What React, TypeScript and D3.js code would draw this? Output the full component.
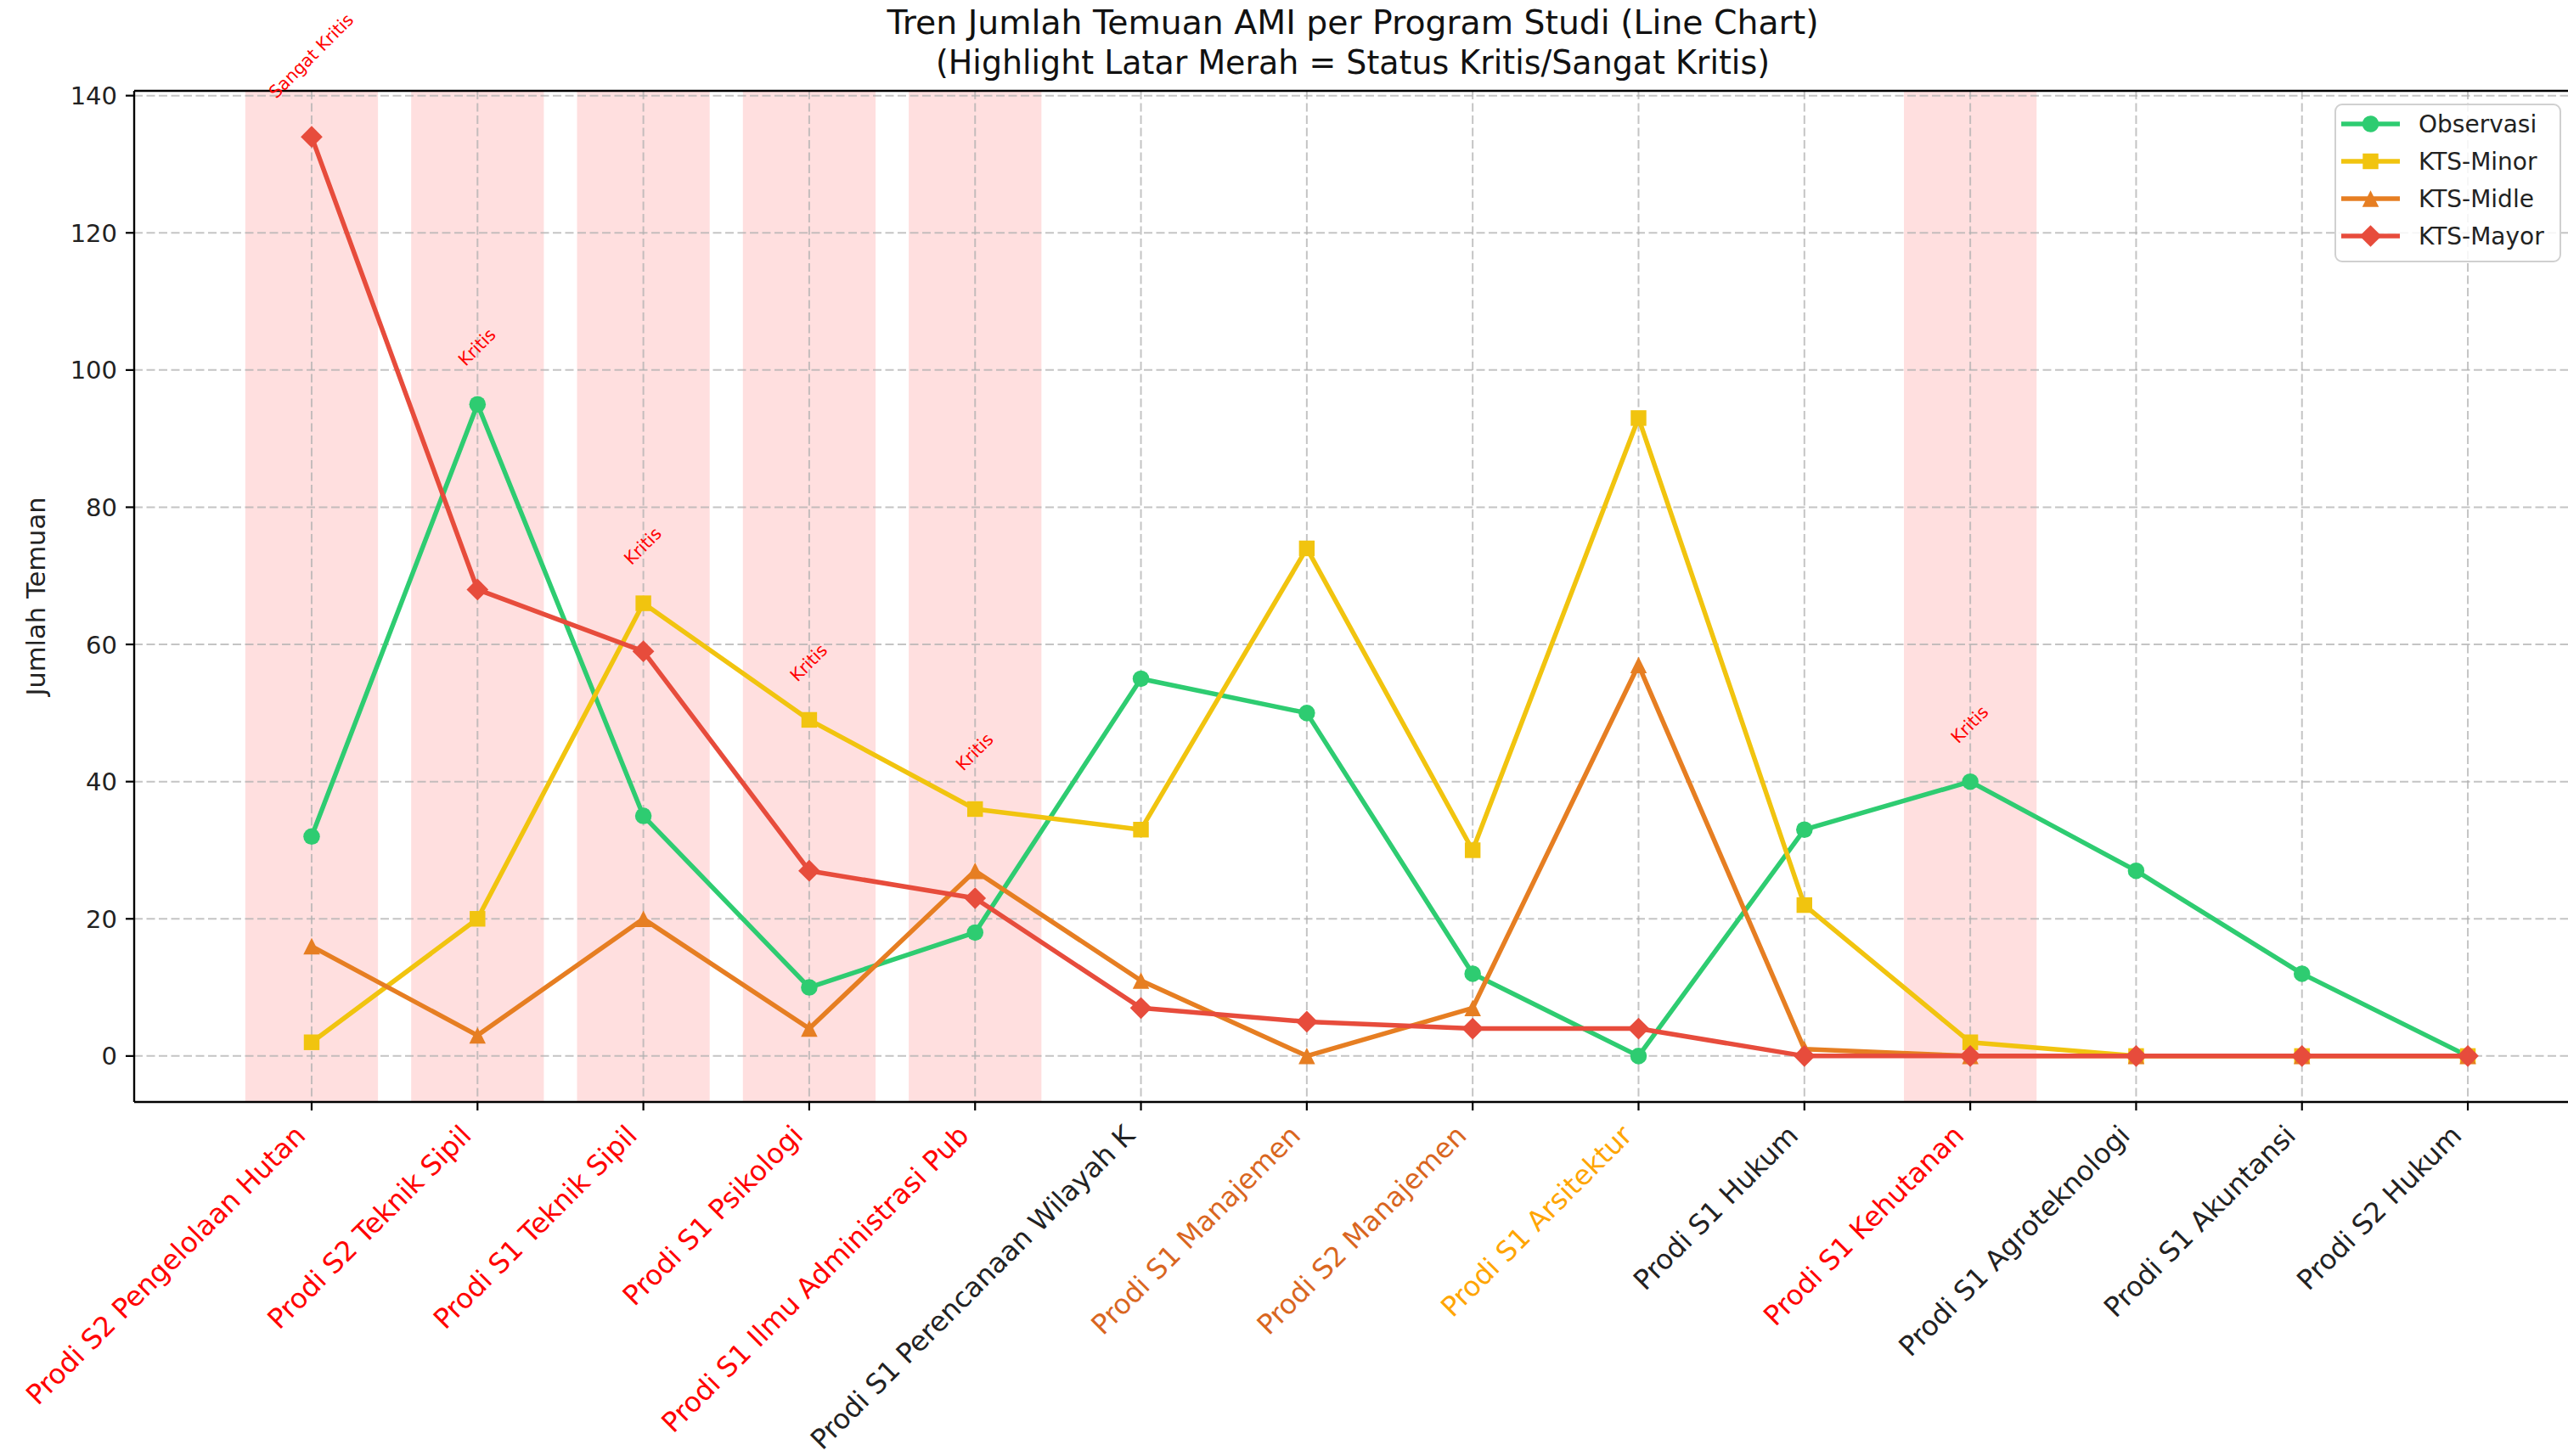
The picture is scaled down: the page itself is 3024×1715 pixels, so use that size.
import React, { useEffect, useRef } from 'react';
import * as d3 from 'd3';

// Program names on the x axis
const programs = [
  'Prodi S2 Pengelolaan Hutan',
  'Prodi S2 Teknik Sipil',
  'Prodi S1 Teknik Sipil',
  'Prodi S1 Psikologi',
  'Prodi S1 Ilmu Administrasi Pub',
  'Prodi S1 Perencanaan Wilayah K',
  'Prodi S1 Manajemen',
  'Prodi S2 Manajemen',
  'Prodi S1 Arsitektur',
  'Prodi S1 Hukum',
  'Prodi S1 Kehutanan',
  'Prodi S1 Agroteknologi',
  'Prodi S1 Akuntansi',
  'Prodi S2 Hukum',
];

// Findings per program
const observasi = [32, 95, 35, 10, 18, 55, 50, 12, 0, 33, 40, 27, 12, 0];
const ktsMinor = [2, 20, 66, 49, 36, 33, 74, 30, 93, 22, 2, 0, 0, 0];
const ktsMidle = [16, 3, 20, 4, 27, 11, 0, 7, 57, 1, 0, 0, 0, 0];
const ktsMayor = [134, 68, 59, 27, 23, 7, 5, 4, 4, 0, 0, 0, 0, 0];

// Status per program ('' = not highlighted)
const statusLabels = [
  'Sangat Kritis', 'Kritis', 'Kritis', 'Kritis', 'Kritis', '', '', '', '', '', 'Kritis', '', '', '',
];

// Tick label colours per program
const labelColors = [
  '#ff0000', '#ff0000', '#ff0000', '#ff0000', '#ff0000', '#222222', '#d9661f',
  '#d9661f', '#ffa500', '#222222', '#ff0000', '#222222', '#222222', '#222222',
];

const yTicks = [0, 20, 40, 60, 80, 100, 120, 140];

const seriesNames = ['Observasi', 'KTS-Minor', 'KTS-Midle', 'KTS-Mayor'];
const seriesData = [observasi, ktsMinor, ktsMidle, ktsMayor];
const seriesColors = ['#2ecc71', '#f1c40f', '#e67e22', '#e74c3c'];

const width = 3024;
const height = 1715;
const plot = {
  left: 158, top: 107, bottom: 1298, right: 3033,
};
const font = '"DejaVu Sans", sans-serif';

// Matplotlib-like triangle ('^'): width and height equal to marker size
const triangle = {
  draw(context: d3.Path, size: number) {
    const r = Math.sqrt(size) / 2;
    context.moveTo(0, -r);
    context.lineTo(r, r);
    context.lineTo(-r, r);
    context.closePath();
  },
};

const markerTypes = [d3.symbolCircle, d3.symbolSquare, triangle, d3.symbolSquare];
const markerSizes = [300, 340, 380, 330];
const markerRotate = [0, 0, 0, 45];

const App: React.FC = () => {
  const svgRef = useRef<SVGSVGElement>(null);

  useEffect(() => {
    const svg = d3.select(svgRef.current);
    svg.selectAll('*').remove();

    const x = d3.scaleLinear().domain([-1.07, 13.65]).range([plot.left, plot.right]);
    const y = d3.scaleLinear().domain([-6.7, 140.7]).range([plot.bottom, plot.top]);

    // Red highlight spans
    svg.append('g')
      .selectAll('rect')
      .data(programs.map((_, i) => i).filter((i) => statusLabels[i] !== ''))
      .join('rect')
      .attr('x', (i) => x(i - 0.4))
      .attr('width', (i) => x(i + 0.4) - x(i - 0.4))
      .attr('y', plot.top)
      .attr('height', plot.bottom - plot.top)
      .attr('fill', 'red')
      .attr('fill-opacity', 0.125);

    // Grid
    const grid = svg.append('g')
      .attr('stroke', '#b0b0b0')
      .attr('stroke-width', 2)
      .attr('stroke-dasharray', '10,4.5')
      .attr('stroke-opacity', 0.75);
    grid.selectAll('line.h')
      .data(yTicks)
      .join('line')
      .attr('class', 'h')
      .attr('x1', plot.left)
      .attr('x2', width)
      .attr('y1', (d) => y(d))
      .attr('y2', (d) => y(d));
    grid.selectAll('line.v')
      .data(programs)
      .join('line')
      .attr('class', 'v')
      .attr('x1', (_, i) => x(i))
      .attr('x2', (_, i) => x(i))
      .attr('y1', plot.top)
      .attr('y2', plot.bottom);

    // Lines and markers
    const line = d3.line<number>()
      .x((_, i) => x(i))
      .y((d) => y(d));

    seriesData.forEach((values, s) => {
      const g = svg.append('g');
      g.append('path')
        .attr('d', line(values))
        .attr('fill', 'none')
        .attr('stroke', seriesColors[s])
        .attr('stroke-width', 5.5)
        .attr('stroke-linejoin', 'round');
      const sym = d3.symbol().type(markerTypes[s] as d3.SymbolType).size(markerSizes[s]);
      g.selectAll('path.m')
        .data(values)
        .join('path')
        .attr('class', 'm')
        .attr('d', sym())
        .attr('transform', (d, i) => `translate(${x(i)},${y(d)}) rotate(${markerRotate[s]})`)
        .attr('fill', seriesColors[s]);
    });

    // Spines
    const spines = svg.append('g').attr('stroke', '#000').attr('stroke-width', 2.4);
    spines.append('line')
      .attr('x1', plot.left).attr('x2', plot.left)
      .attr('y1', plot.top).attr('y2', plot.bottom);
    spines.append('line')
      .attr('x1', plot.left).attr('x2', width)
      .attr('y1', plot.top).attr('y2', plot.top);
    spines.append('line')
      .attr('x1', plot.left).attr('x2', width)
      .attr('y1', plot.bottom).attr('y2', plot.bottom);

    // Y ticks and labels
    const yAxis = svg.append('g');
    yAxis.selectAll('line')
      .data(yTicks)
      .join('line')
      .attr('x1', plot.left - 10)
      .attr('x2', plot.left)
      .attr('y1', (d) => y(d))
      .attr('y2', (d) => y(d))
      .attr('stroke', '#000')
      .attr('stroke-width', 2.2);
    yAxis.selectAll('text')
      .data(yTicks)
      .join('text')
      .attr('x', plot.left - 20)
      .attr('y', (d) => y(d))
      .attr('dy', '0.36em')
      .attr('text-anchor', 'end')
      .attr('font-family', font)
      .attr('font-size', 29)
      .attr('fill', '#222')
      .text((d) => d);

    // X ticks and rotated labels
    const xFont = 32.4;
    const xAxis = svg.append('g');
    xAxis.selectAll('line')
      .data(programs)
      .join('line')
      .attr('x1', (_, i) => x(i))
      .attr('x2', (_, i) => x(i))
      .attr('y1', plot.bottom)
      .attr('y2', plot.bottom + 10)
      .attr('stroke', '#000')
      .attr('stroke-width', 2.2);
    const y0 = plot.bottom + 24;
    xAxis.selectAll('text')
      .data(programs)
      .join('text')
      .attr('transform', (_, i) => `translate(${x(i) - 0.24 * xFont * 0.707},${y0 + 0.76 * xFont * 0.707}) rotate(-45)`)
      .attr('text-anchor', 'end')
      .attr('font-family', font)
      .attr('font-size', xFont)
      .attr('fill', (_, i) => labelColors[i])
      .text((d) => d);

    // Status annotations above highlighted programs
    const aFont = 20.5;
    programs.forEach((_, i) => {
      if (!statusLabels[i]) return;
      const top = Math.max(observasi[i], ktsMinor[i], ktsMidle[i], ktsMayor[i]) + 5;
      const t = svg.append('text')
        .attr('font-family', font)
        .attr('font-size', aFont)
        .attr('fill', 'red')
        .attr('text-anchor', 'middle')
        .attr('dy', '0.3em')
        .text(statusLabels[i]);
      const len = (t.node() as SVGTextElement).getComputedTextLength();
      const half = ((len + aFont * 1.1) * 0.707) / 2;
      t.attr('transform', `translate(${x(i)},${y(top) - half}) rotate(-45)`);
    });

    // Legend
    const legend = svg.append('g').attr('transform', 'translate(2750,123)');
    legend.append('rect')
      .attr('width', 265)
      .attr('height', 185)
      .attr('rx', 8)
      .attr('fill', '#fff')
      .attr('fill-opacity', 0.85)
      .attr('stroke', '#d0d0d0')
      .attr('stroke-width', 2);
    seriesNames.forEach((name, s) => {
      const ly = 23 + s * 44;
      const item = legend.append('g').attr('transform', `translate(0,${ly})`);
      item.append('line')
        .attr('x1', 7).attr('x2', 76)
        .attr('stroke', seriesColors[s])
        .attr('stroke-width', 5.5);
      item.append('path')
        .attr('d', d3.symbol().type(markerTypes[s] as d3.SymbolType).size(markerSizes[s])())
        .attr('transform', `translate(41.5,0) rotate(${markerRotate[s]})`)
        .attr('fill', seriesColors[s]);
      item.append('text')
        .attr('x', 98)
        .attr('dy', '0.36em')
        .attr('font-family', font)
        .attr('font-size', 28)
        .attr('fill', '#222')
        .text(name);
    });

    // Y axis label
    svg.append('text')
      .attr('transform', `translate(42,${(plot.top + plot.bottom) / 2}) rotate(-90)`)
      .attr('text-anchor', 'middle')
      .attr('dy', '0.36em')
      .attr('font-family', font)
      .attr('font-size', 30.6)
      .attr('fill', '#222')
      .text('Jumlah Temuan');

    // Title
    const cx = 1593;
    svg.append('text')
      .attr('x', cx).attr('y', 40)
      .attr('text-anchor', 'middle')
      .attr('font-family', font)
      .attr('font-size', 39)
      .attr('textLength', 1097)
      .attr('lengthAdjust', 'spacingAndGlyphs')
      .attr('fill', '#111')
      .text('Tren Jumlah Temuan AMI per Program Studi (Line Chart)');
    svg.append('text')
      .attr('x', cx).attr('y', 87)
      .attr('text-anchor', 'middle')
      .attr('font-family', font)
      .attr('font-size', 39)
      .attr('textLength', 982)
      .attr('lengthAdjust', 'spacingAndGlyphs')
      .attr('fill', '#111')
      .text('(Highlight Latar Merah = Status Kritis/Sangat Kritis)');
  }, []);

  return (
    <div style={{ position: 'absolute', left: 0, top: 0 }}>
      <svg ref={svgRef} width={width} height={height} style={{ display: 'block', background: '#fff' }} />
    </div>
  );
};

export default App;
